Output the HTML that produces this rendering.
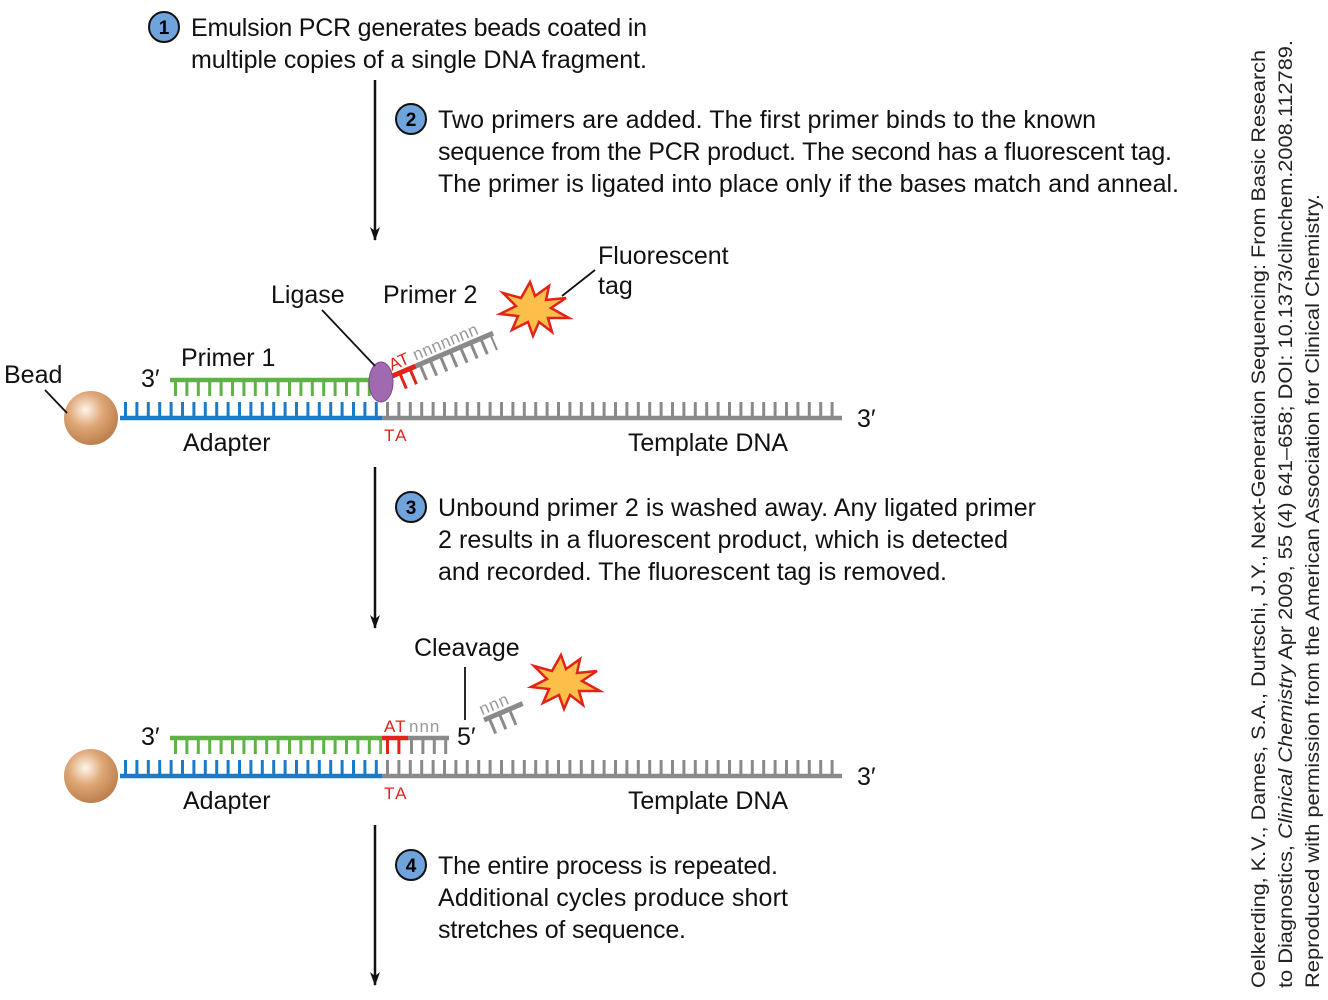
<!DOCTYPE html>
<html><head><meta charset="utf-8"><style>
body{margin:0;background:#fff;}
svg{display:block;font-family:"Liberation Sans",sans-serif;}
.t{font-size:25px;fill:#111;}
.n{font-size:19px;font-weight:bold;fill:#000;}
.c{font-size:19.5px;fill:#222;}
</style></head><body>
<svg width="1328" height="1000" viewBox="0 0 1328 1000" xmlns="http://www.w3.org/2000/svg">
<defs>
<radialGradient id="bead" cx="0.4" cy="0.35" r="0.7">
<stop offset="0" stop-color="#fff5ea"/><stop offset="0.45" stop-color="#dfa878"/><stop offset="1" stop-color="#b87a48"/>
</radialGradient>
<marker id="ar" markerWidth="14" markerHeight="10" refX="13" refY="5" orient="auto" markerUnits="userSpaceOnUse">
<path d="M0,0 L14,5 L0,10 L4,5 Z" fill="#111"/></marker>
</defs>

<g stroke="#111" stroke-width="2" fill="#6fa3dc">
<circle cx="164" cy="27" r="15"/><circle cx="411" cy="119" r="15"/>
<circle cx="411" cy="507" r="15"/><circle cx="411" cy="865" r="15"/></g>
<g class="n" text-anchor="middle">
<text x="164" y="34">1</text><text x="411" y="126">2</text><text x="411" y="514">3</text><text x="411" y="872">4</text></g>

<g class="t">
<text x="191" y="36" textLength="456">Emulsion PCR generates beads coated in</text>
<text x="191" y="68" textLength="456">multiple copies of a single DNA fragment.</text>
<text x="438" y="128" textLength="658">Two primers are added. The first primer binds to the known</text>
<text x="438" y="160" textLength="734">sequence from the PCR product. The second has a fluorescent tag.</text>
<text x="438" y="192" textLength="741">The primer is ligated into place only if the bases match and anneal.</text>
<text x="438" y="516" textLength="598">Unbound primer 2 is washed away. Any ligated primer</text>
<text x="438" y="548" textLength="570">2 results in a fluorescent product, which is detected</text>
<text x="438" y="580" textLength="509">and recorded. The fluorescent tag is removed.</text>
<text x="438" y="874" textLength="340">The entire process is repeated.</text>
<text x="438" y="906" textLength="350">Additional cycles produce short</text>
<text x="438" y="938" textLength="248">stretches of sequence.</text>
</g>

<g stroke="#111" stroke-width="2.5" marker-end="url(#ar)">
<line x1="375" y1="80" x2="375" y2="240"/>
<line x1="375" y1="467" x2="375" y2="628"/>
<line x1="375" y1="825" x2="375" y2="985"/></g>

<g id="d1">
<line x1="120" y1="418" x2="382" y2="418" stroke="#1a7cc8" stroke-width="4.5"/>
<line x1="382" y1="418" x2="842" y2="418" stroke="#8a8a8a" stroke-width="4.5"/>
<line x1="124" y1="410" x2="382" y2="410" stroke="#1a7cc8" stroke-width="16" stroke-dasharray="3 8.4"/>
<line x1="386" y1="410" x2="842" y2="410" stroke="#8a8a8a" stroke-width="16" stroke-dasharray="3 8.4"/>
<circle cx="91" cy="418" r="27" fill="url(#bead)"/>
</g>
<line x1="170" y1="380" x2="372" y2="380" stroke="#5fb346" stroke-width="4.5"/>
<line x1="174" y1="388" x2="372" y2="388" stroke="#5fb346" stroke-width="16" stroke-dasharray="3 8.4"/>
<g transform="translate(390,377) rotate(-23)">
<line x1="0" y1="0" x2="28" y2="0" stroke="#e2231a" stroke-width="5"/>
<line x1="28" y1="0" x2="112" y2="0" stroke="#8a8a8a" stroke-width="5"/>
<line x1="9" y1="9" x2="28" y2="9" stroke="#e2231a" stroke-width="16" stroke-dasharray="3 8"/>
<line x1="31" y1="9" x2="110" y2="9" stroke="#8a8a8a" stroke-width="16" stroke-dasharray="3 8"/>
<text x="30" y="-5" font-size="17" fill="#999" letter-spacing="0.5">nnnnnnn</text>
<text x="4" y="-5" font-size="17" fill="#e2231a">AT</text>
</g>
<ellipse cx="381" cy="382" rx="12" ry="20" fill="#a169b0" stroke="#7d4a8e" stroke-width="1"/>
<polygon points="530,282 535,296 549,286 546,300 566,298 551,308 569,318 548,318 552,332 539,322 533,336 528,322 512,330 518,316 500,314 516,306 503,293 521,298" fill="#fbbf4a" stroke="#e2231a" stroke-width="2.5"/>
<line x1="322" y1="310" x2="375" y2="366" stroke="#111" stroke-width="1.8"/>
<line x1="45" y1="390" x2="67" y2="413" stroke="#111" stroke-width="1.8"/>
<line x1="562" y1="296" x2="595" y2="270" stroke="#111" stroke-width="1.8"/>
<g class="t">
<text x="4" y="383">Bead</text>
<text x="141" y="387">3′</text>
<text x="181" y="366">Primer 1</text>
<text x="271" y="303">Ligase</text>
<text x="383" y="303">Primer 2</text>
<text x="598" y="264">Fluorescent</text>
<text x="598" y="294">tag</text>
<text x="183" y="451">Adapter</text>
<text x="628" y="451" textLength="160">Template DNA</text>
<text x="857" y="427">3′</text>
</g>
<text x="384" y="441" font-size="17" fill="#e2231a" letter-spacing="2">TA</text>

<use href="#d1" transform="translate(0,358)"/>
<line x1="170" y1="738" x2="382" y2="738" stroke="#5fb346" stroke-width="4.5"/>
<line x1="174" y1="746" x2="382" y2="746" stroke="#5fb346" stroke-width="16" stroke-dasharray="3 8.4"/>
<line x1="382" y1="738" x2="408" y2="738" stroke="#e2231a" stroke-width="4.5"/>
<line x1="408" y1="738" x2="449" y2="738" stroke="#8a8a8a" stroke-width="4.5"/>
<line x1="386" y1="746" x2="408" y2="746" stroke="#e2231a" stroke-width="16" stroke-dasharray="3 8.4"/>
<line x1="410" y1="746" x2="449" y2="746" stroke="#8a8a8a" stroke-width="16" stroke-dasharray="3 8.4"/>
<text x="384" y="732" font-size="17" fill="#e2231a" letter-spacing="1">AT</text>
<text x="409" y="732" font-size="17" fill="#999" letter-spacing="1">nnn</text>
<g transform="translate(484,720) rotate(-23)">
<line x1="0" y1="0" x2="42" y2="0" stroke="#8a8a8a" stroke-width="5"/>
<line x1="4" y1="9" x2="32" y2="9" stroke="#8a8a8a" stroke-width="16" stroke-dasharray="3 8"/>
<text x="0" y="-5" font-size="17" fill="#999" letter-spacing="1">nnn</text>
</g>
<polygon points="561,655 566,669 580,659 577,673 597,671 582,681 600,691 579,691 583,705 570,695 564,709 559,695 543,703 549,689 531,687 547,679 534,666 552,671" fill="#fbbf4a" stroke="#e2231a" stroke-width="2.5"/>
<line x1="465" y1="667" x2="465" y2="720" stroke="#111" stroke-width="1.8"/>
<g class="t">
<text x="141" y="745">3′</text>
<text x="414" y="656">Cleavage</text>
<text x="457" y="745">5′</text>
<text x="183" y="809">Adapter</text>
<text x="628" y="809" textLength="160">Template DNA</text>
<text x="857" y="785">3′</text>
</g>
<text x="384" y="799" font-size="17" fill="#e2231a" letter-spacing="2">TA</text>

<g class="c">
<text transform="translate(1265,988) rotate(-90)" textLength="938" lengthAdjust="spacingAndGlyphs">Oelkerding, K.V., Dames, S.A., Durtschi, J.Y., Next-Generation Sequencing: From Basic Research</text>
<text transform="translate(1292,988) rotate(-90)" textLength="948" lengthAdjust="spacingAndGlyphs">to Diagnostics, <tspan font-style="italic">Clinical Chemistry</tspan> Apr 2009, 55 (4) 641–658; DOI: 10.1373/clinchem.2008.112789.</text>
<text transform="translate(1319,988) rotate(-90)" textLength="794" lengthAdjust="spacingAndGlyphs">Reproduced with permission from the American Association for Clinical Chemistry.</text>
</g>
</svg>
</body></html>
